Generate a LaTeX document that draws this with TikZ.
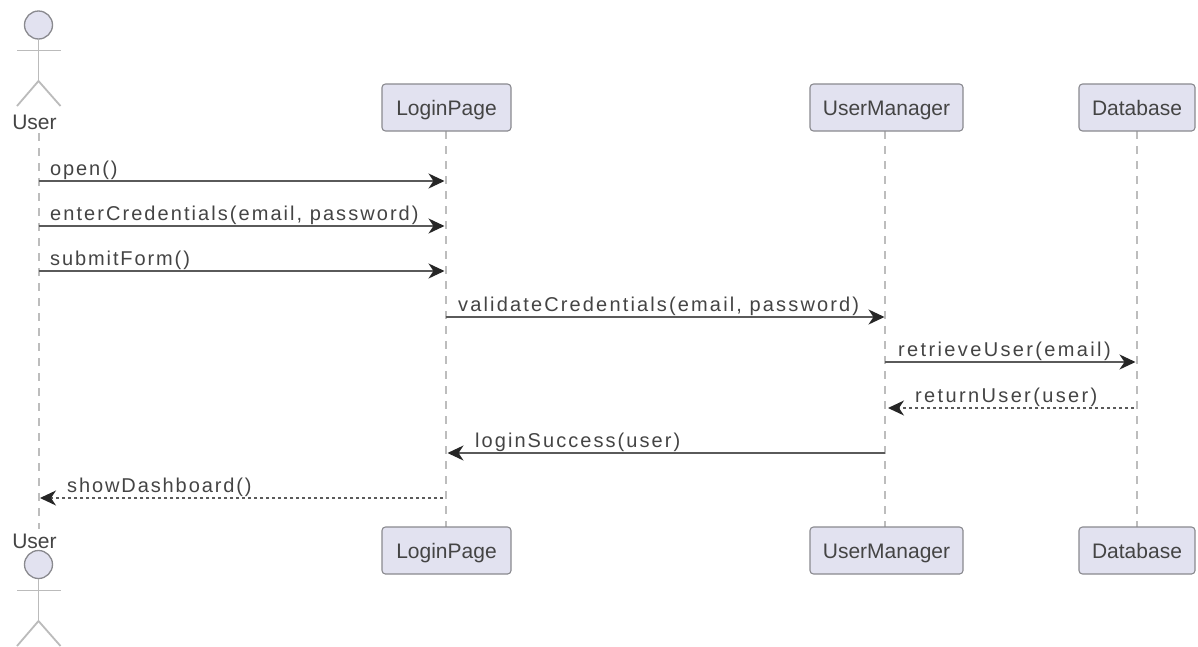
\documentclass[tikz,border=0pt]{standalone}
\usepackage{fontspec}
\setmainfont{Liberation Sans}
\usetikzlibrary{arrows.meta}
\definecolor{pfill}{HTML}{E2E2F0}
\definecolor{pline}{HTML}{8A8A8F}
\definecolor{lifecol}{HTML}{BDBDBD}
\definecolor{msgcol}{HTML}{5A5A5A}
\definecolor{txt}{HTML}{444444}
\definecolor{stick}{HTML}{BBBBBB}
\newfontfamily\msgfont[LetterSpace=9.5]{Liberation Sans}
\newfontfamily\msgfontb[LetterSpace=10.3]{Liberation Sans}
\newfontfamily\msgfontc[LetterSpace=10.75]{Liberation Sans}
\newfontfamily\msgfontd[LetterSpace=11.8]{Liberation Sans}
\tikzset{
 x=1pt,y=-1pt,
 partbox/.style={draw=pline,fill=pfill,rounded corners=3.5pt,line width=1.1pt,minimum height=47pt,inner sep=0pt,text=txt,text height=16pt,text depth=0pt,font=\fontsize{21}{24}\selectfont},
 lifeline/.style={draw=lifecol,line width=2pt,dash pattern=on 8pt off 7pt},
 head/.style={draw=pline,fill=pfill,line width=1.3pt,circle,minimum size=28pt,inner sep=0pt},
 limb/.style={draw=stick,line width=1.8pt},
 actorlabel/.style={text=txt,inner sep=0pt,font=\fontsize{21}{24}\selectfont},
 msg/.style={draw=msgcol,line width=1.6pt,-{Stealth[length=16pt,width=15pt,inset=5pt,color=black!85]}},
 ret/.style={draw=msgcol,line width=1.3pt,dash pattern=on 3pt off 3pt,-{Stealth[length=16pt,width=15pt,inset=5pt,color=black!85]}},
 msglabel/.style={text=txt,inner sep=0pt,anchor=base west,font=\fontsize{20}{24}\msgfont},
 msglabelb/.style={msglabel,font=\fontsize{20}{24}\msgfontb},
 msglabelc/.style={msglabel,font=\fontsize{20}{24}\msgfontc},
 msglabeld/.style={msglabel,font=\fontsize{20}{24}\msgfontd},
}
\begin{document}
\begin{tikzpicture}
\useasboundingbox (0,0) rectangle (1198,646);
\fill[white] (0,0) rectangle (1198,646);
% lifeline anchors
\coordinate (ua) at (38.5,133);
\coordinate (ub) at (38.5,529);
\coordinate (la) at (445.5,131);
\coordinate (lb) at (445.5,527);
\coordinate (ma) at (885,131);
\coordinate (mb) at (885,527);
\coordinate (da) at (1137,131);
\coordinate (db) at (1137,527);
\draw[lifeline] (ua) -- (ub);
\draw[lifeline] (la) -- (lb);
\draw[lifeline] (ma) -- (mb);
\draw[lifeline] (da) -- (db);
% participants
\node[actorlabel] (utop) at (34.5,122) {User};
\node[actorlabel] (ubot) at (34.5,541) {User};
\node[partbox,minimum width=129pt] (ltop) at (446.5,107.5) {LoginPage};
\node[partbox,minimum width=153pt] (mtop) at (886.5,107.5) {UserManager};
\node[partbox,minimum width=116pt] (dtop) at (1137,107.5) {Database};
\node[partbox,minimum width=129pt] (lbot) at (446.5,550.5) {LoginPage};
\node[partbox,minimum width=153pt] (mbot) at (886.5,550.5) {UserManager};
\node[partbox,minimum width=116pt] (dbot) at (1137,550.5) {Database};
% actors
\node[head] (htop) at (38.5,25) {};
\coordinate (at1) at (17,50.5); \coordinate (at2) at (60.5,50.5);
\coordinate (bt) at (38.5,81); \coordinate (ft1) at (17,106); \coordinate (ft2) at (60.5,106);
\draw[limb] (htop) -- (bt);
\draw[limb] (at1) -- (at2);
\draw[limb] (ft1) -- (bt) -- (ft2);
\node[head] (hbot) at (38.5,564.5) {};
\coordinate (ab1) at (17,590.5); \coordinate (ab2) at (60.5,590.5);
\coordinate (bb) at (38.5,621); \coordinate (fb1) at (17,646); \coordinate (fb2) at (60.5,646);
\draw[limb] (hbot) -- (bb);
\draw[limb] (ab1) -- (ab2);
\draw[limb] (fb1) -- (bb) -- (fb2);
% messages
\coordinate (u1) at (38.5,181); \coordinate (l1) at (444.5,181);
\coordinate (u2) at (38.5,226); \coordinate (l2) at (444.5,226);
\coordinate (u3) at (38.5,271); \coordinate (l3) at (444.5,271);
\coordinate (l4) at (445.5,317); \coordinate (m4) at (884.5,317);
\coordinate (m5) at (885,362); \coordinate (d5) at (1135.5,362);
\coordinate (d6) at (1134,408); \coordinate (m6) at (888,408);
\coordinate (m7) at (885,453); \coordinate (l7) at (447.5,453);
\coordinate (l8) at (443,498); \coordinate (u8) at (40,498);
\draw[msg] (u1) -- (l1);
\draw[msg] (u2) -- (l2);
\draw[msg] (u3) -- (l3);
\draw[msg] (l4) -- (m4);
\draw[msg] (m5) -- (d5);
\draw[ret] (d6) -- (m6);
\draw[msg] (m7) -- (l7);
\draw[ret] (l8) -- (u8);
\node[msglabel] (t1) at (50,175.5) {open()};
\node[msglabelb] (t2) at (50,220.5) {enterCredentials(email, password)};
\node[msglabel] (t3) at (50,265.5) {submitForm()};
\node[msglabelc] (t4) at (458,311.5) {validateCredentials(email, password)};
\node[msglabeld] (t5) at (898,356.5) {retrieveUser(email)};
\node[msglabeld] (t6) at (915,402.5) {returnUser(user)};
\node[msglabelb] (t7) at (475,447.5) {loginSuccess(user)};
\node[msglabel] (t8) at (67,492.5) {showDashboard()};
\end{tikzpicture}
\end{document}
